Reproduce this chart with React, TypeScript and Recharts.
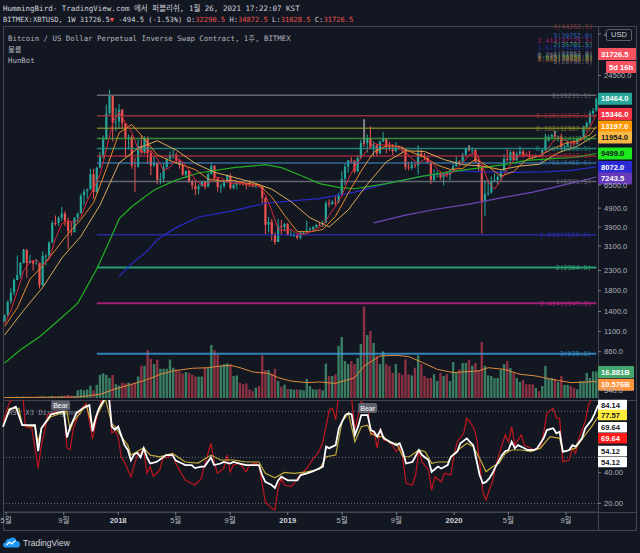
import React from "react";
import { ComposedChart, Bar, Line, XAxis, YAxis, ReferenceLine, ReferenceDot } from "recharts";

const BG = "#131722";
const UP = "#26a69a";
const DOWN = "#ef5350";
const TXT = "#b2b5be";
const SEP = "#434651";
const MONO = '"DejaVu Sans Mono", "Noto Sans CJK KR", monospace';
const SANS = '"Liberation Sans", Arial, "Noto Sans CJK KR", sans-serif';

// BITMEX:XBTUSD 1W, week of 2017-04-24 .. week of 2020-11-16 : [open, high, low, close]
const ohlc: number[][] = [
  // 2017
  [1240, 1350, 1230, 1340], [1340, 1600, 1320, 1580], [1580, 1860, 1540, 1760], [1760, 2100, 1700, 2050],
  [2050, 2760, 2050, 2180], [2180, 2550, 2100, 2520], [2520, 2980, 2500, 2950], [2950, 2990, 2100, 2520],
  [2520, 2780, 2500, 2590], [2590, 2610, 2300, 2500], [2500, 2650, 2480, 2510], [2510, 2530, 1850, 1930],
  [1930, 2900, 1900, 2750], [2750, 2820, 2450, 2760], [2760, 3280, 2650, 3230], [3230, 4200, 3200, 4100],
  [4100, 4480, 3950, 4090], [4090, 4450, 3950, 4350], [4350, 4980, 4200, 4600], [4600, 4720, 3950, 4200],
  [4200, 4350, 2980, 3700], [3700, 4120, 3500, 3660], [3660, 4400, 3650, 4370], [4370, 4650, 4150, 4600],
  [4600, 5850, 4580, 5700], [5700, 6200, 5100, 6000], [6000, 6200, 5500, 6150], [6150, 7900, 6100, 7400],
  [7400, 7880, 5500, 5950], [5950, 8100, 5900, 8000], [8000, 9700, 7950, 9300], [9300, 11800, 8900, 11300],
  [11300, 17200, 11200, 15500], [15500, 20600, 15200, 19100], [19100, 19300, 11000, 13800], [13800, 16500, 12500, 14000],
  // 2018
  [14000, 17300, 12800, 16200], [16200, 16300, 12800, 13700], [13700, 13800, 9100, 11500], [11500, 12000, 10000, 11600],
  [11600, 11900, 7900, 8200], [8200, 9000, 5950, 8100], [8100, 11200, 8000, 10400], [10400, 11800, 9400, 9650],
  [9650, 11700, 9400, 11450], [11450, 11700, 8400, 9550], [9550, 9900, 7300, 8200], [8200, 9200, 8100, 8450],
  [8450, 8500, 6550, 6900], [6900, 7500, 6550, 7000], [7000, 8450, 6650, 8050], [8050, 9050, 7900, 8900],
  [8900, 9750, 8700, 9350], [9350, 9950, 8900, 9400], [9400, 9600, 8400, 8700], [8700, 8900, 7900, 8250],
  [8250, 8500, 7250, 7350], [7350, 7750, 7050, 7700], [7700, 7800, 6650, 6750], [6750, 6950, 6150, 6450],
  [6450, 6850, 5750, 6150], [6150, 6550, 5800, 6380], [6380, 6800, 6350, 6750], [6750, 6800, 6150, 6350],
  [6350, 7600, 6300, 7400], [7400, 8500, 7350, 8200], [8200, 8250, 6900, 7030], [7030, 7150, 6000, 6300],
  [6300, 6600, 5900, 6400], [6400, 6900, 6250, 6700], [6700, 7400, 6650, 7250], [7250, 7450, 6150, 6250],
  [6250, 6600, 6150, 6500], [6500, 6800, 6150, 6700], [6700, 6800, 6450, 6600], [6600, 6650, 6450, 6550],
  [6550, 6650, 6150, 6450], [6450, 6900, 6400, 6420], [6420, 6550, 6350, 6400], [6400, 6500, 6250, 6450],
  [6450, 6550, 6300, 6350], [6350, 6400, 5200, 5550], [5550, 5600, 3550, 4000], [4000, 4400, 3650, 4150],
  [4150, 4300, 3300, 3550], [3550, 3650, 3150, 3250], [3250, 4300, 3250, 3950], [3950, 4250, 3550, 3900],
  // 2019
  [3900, 4100, 3700, 4050], [4050, 4100, 3500, 3520], [3520, 3750, 3500, 3530], [3530, 3650, 3450, 3550],
  [3550, 3600, 3350, 3420], [3420, 3700, 3350, 3650], [3650, 3700, 3550, 3680], [3680, 4200, 3650, 3750],
  [3750, 3900, 3700, 3800], [3800, 3950, 3700, 3900], [3900, 4050, 3850, 4000], [4000, 4100, 3950, 3980],
  [3980, 4200, 3900, 4100], [4100, 5350, 4100, 5200], [5200, 5450, 4950, 5150], [5150, 5400, 5100, 5300],
  [5300, 5650, 5050, 5250], [5250, 5900, 5200, 5750], [5750, 7650, 5700, 7000], [7000, 8400, 6500, 8100],
  [8100, 8700, 7500, 8750], [8750, 9100, 8450, 8700], [8700, 8800, 7450, 7650], [7650, 9300, 7550, 9000],
  [9000, 11200, 8950, 10800], [10800, 14400, 10300, 10750], [10750, 12000, 9600, 11450], [11450, 13200, 10100, 10200],
  [10200, 11000, 9100, 10500], [10500, 10650, 9150, 9500], [9500, 11100, 9400, 11000], [11000, 12300, 10900, 11400],
  [11400, 11450, 9500, 10300], [10300, 10950, 9800, 10150], [10150, 10650, 9350, 9750], [9750, 10900, 9650, 10400],
  [10400, 10450, 9900, 10300], [10300, 10350, 9600, 10000], [10000, 10050, 7800, 8050], [8050, 8550, 7750, 7950],
  [7950, 8650, 7800, 8300], [8300, 8400, 7950, 8200], [8200, 10500, 7350, 9550], [9550, 9950, 9050, 9200],
  [9200, 9550, 8750, 9050], [9050, 9100, 8400, 8500], [8500, 8550, 6550, 6900], [6900, 7850, 6800, 7400],
  [7400, 7750, 7100, 7500], [7500, 7650, 6900, 7100], [7100, 7450, 6450, 7500], [7500, 7700, 7100, 7300],
  // 2020
  [7300, 7800, 6850, 7750], [7750, 8450, 7700, 8150], [8150, 9200, 8100, 8650], [8650, 8750, 8250, 8600],
  [8600, 9600, 8500, 9350], [9350, 10200, 9150, 10150], [10150, 10500, 9700, 9900], [9900, 10250, 9400, 9950],
  [9950, 10000, 8450, 8550], [8550, 9200, 7650, 8050], [8050, 8200, 3600, 5350], [5350, 6900, 4450, 5850],
  [5850, 6950, 5700, 5900], [5900, 7200, 5850, 6800], [6800, 7450, 6750, 6900], [6900, 7300, 6500, 7150],
  [7150, 7750, 6800, 7700], [7700, 9450, 7650, 8900], [8900, 10050, 8600, 8750], [8750, 9900, 8200, 9700],
  [9700, 9850, 8700, 8750], [8750, 9750, 8650, 9450], [9450, 10400, 9300, 9750], [9750, 9950, 9050, 9350],
  [9350, 9600, 9200, 9300], [9300, 9800, 8950, 9100], [9100, 9250, 8950, 9050], [9050, 9450, 9000, 9250],
  [9250, 9300, 9050, 9200], [9200, 10000, 9150, 9950], [9950, 12100, 9900, 11150], [11150, 11900, 11000, 11650],
  [11650, 12100, 11300, 11900], [11900, 12500, 11350, 11650], [11650, 11800, 11100, 11700], [11700, 12100, 9900, 10250],
  [10250, 10550, 9900, 10350], [10350, 11150, 10250, 10950], [10950, 11000, 10150, 10750], [10750, 10950, 10450, 10650],
  [10650, 11500, 10550, 11400], [11400, 11750, 11200, 11500], [11500, 13350, 11400, 13050], [13050, 14050, 12900, 13750],
  [13750, 15950, 13300, 15500], [15500, 16500, 14800, 15950], [15950, 18800, 15800, 18450],
];

// weekly volume, billions of USD contracts
const volume = [
  0.3, 0.4, 0.5, 0.6, 0.9, 0.7, 0.9, 0.9, 0.7, 0.6,
  0.7, 1.0, 1.1, 0.8, 0.9, 1.3, 1.2, 1.1, 1.4, 1.5,
  2.0, 1.5, 1.3, 5, 5.5, 5, 5.5, 8, 5, 8.5,
  15, 16, 15, 13, 15, 9, 8, 10, 9.5, 10,
  9.5, 10, 14, 21, 21, 31, 25.5, 22, 25, 19,
  19, 19, 25, 19.7, 18.6, 17.3, 16, 16.9, 16.3, 15.2,
  13.9, 13.9, 13.9, 19.5, 19.5, 34.5, 31, 28, 21, 22,
  22.5, 22, 14.3, 14.7, 9.8, 8.9, 9.5, 5.6, 4.5, 6.7,
  7.8, 27.7, 18.2, 18.2, 15.8, 19, 11, 7.3, 8.7, 5.9,
  5.9, 5.4, 5.6, 5.4, 5, 12.4, 7.8, 5.6, 5.4, 6,
  5, 22.3, 14.3, 14.3, 15.4, 33.8, 39.6, 24, 22, 24,
  22, 26, 35, 59.4, 40.9, 43.5, 35.7, 27.5, 22, 30.3,
  22, 20.8, 16.3, 22, 16.3, 15, 25.1, 15.4, 14.7, 19.7,
  27.7, 22, 14.3, 13, 13, 15.4, 11, 16.3, 14.3, 15.4,
  11, 23.4, 16.3, 18.6, 22.8, 22.8, 24.9, 21, 22.8, 18.2,
  36.4, 21, 14.7, 14.3, 13, 13, 18.6, 22, 24, 19.5,
  16.3, 13, 10.4, 11.7, 8.9, 8.9, 8.9, 6.5, 4.5, 7.8,
  20.8, 12.4, 13, 12.4, 10.4, 14.3, 8.5, 8.5, 7.8, 6.5,
  5.6, 11, 11, 16.3, 13, 17.3, 17.3,
];

// bars whose upper wick is highlighted white
const whiteBars = [6, 26, 113, 146, 173];

// [week index, value]
const volMa = [[0, 0.3], [23, 0.6], [30, 2.4], [35, 6.1], [40, 8.9], [45, 12.1], [49, 15.4], [53, 17.6], [59, 19.3], [64, 19.7], [68, 20.8], [71, 21.2], [74, 19.7], [78, 16.9], [83, 16], [86, 13.2], [90, 11], [95, 10], [99, 10.4], [104, 9.5], [110, 13.2], [113, 20.8], [118, 27.3], [123, 27.7], [127, 26.9], [131, 23.4], [136, 18.6], [141, 16.5], [149, 17.6], [152, 19.7], [157, 18.6], [162, 15.4], [167, 14.3], [172, 12.1], [178, 10], [183, 10.4], [186, 10.8]];

const ma5 = [[0, 1204], [2, 1418], [4, 1782], [6, 2292], [8, 2552], [10, 2612], [12, 2454], [14, 2632], [16, 3386], [18, 4076], [20, 4190], [22, 4112], [24, 4412], [26, 5370], [28, 6240], [30, 7360], [32, 10010], [34, 13800], [36, 15720], [38, 13840], [40, 12240], [42, 9960], [44, 9560], [46, 9850], [48, 8910], [50, 7720], [52, 8040], [54, 8880], [56, 8610], [58, 7750], [60, 6880], [62, 6496], [64, 6606], [66, 7146], [68, 7066], [70, 6736], [72, 6620], [74, 6660], [76, 6560], [78, 6490], [80, 6420], [82, 5750], [84, 4720], [86, 3780], [88, 3740], [90, 3790], [92, 3614], [94, 3566], [96, 3660], [98, 3826], [100, 3956], [102, 4486], [104, 5000], [106, 5690], [108, 6970], [110, 8050], [112, 8990], [114, 9940], [116, 10750], [118, 10530], [120, 10540], [122, 10520], [124, 10180], [126, 9700], [128, 8920], [130, 8410], [132, 8860], [134, 8640], [136, 7870], [138, 7280], [140, 7430], [142, 7870], [144, 8500], [146, 9330], [148, 9580], [150, 8360], [152, 6740], [154, 6160], [156, 6890], [158, 7880], [160, 8760], [162, 9280], [164, 9320], [166, 9310], [168, 9180], [170, 9720], [172, 10770], [174, 11610], [176, 11170], [178, 10800], [180, 10820], [182, 11470], [184, 13040], [186, 15346]];
const ma10 = [[0, 1167], [4, 1464], [8, 2076], [12, 2438], [16, 2960], [20, 3600], [24, 4272], [28, 5251], [32, 7908], [36, 12200], [40, 13500], [44, 11300], [48, 9335], [52, 8710], [56, 8245], [60, 7810], [64, 6960], [68, 6810], [72, 6863], [76, 6619], [80, 6515], [84, 5590], [88, 4490], [92, 3687], [96, 3680], [100, 3785], [104, 4445], [108, 5857], [112, 7660], [116, 9635], [120, 10440], [124, 10360], [128, 9635], [132, 9085], [136, 8250], [140, 7840], [144, 7930], [148, 8880], [152, 8100], [156, 7220], [160, 7640], [164, 8820], [168, 9240], [172, 10010], [176, 10710], [180, 11105], [184, 11925], [186, 13197]];
const ma20 = [[0, 1053], [6, 1420], [12, 1877], [18, 2678], [24, 3486], [30, 5090], [36, 8480], [42, 10150], [48, 11090], [54, 9890], [60, 8415], [66, 7565], [72, 7124], [78, 6690], [84, 6165], [90, 5300], [96, 4360], [102, 3900], [108, 4795], [114, 6545], [120, 8600], [126, 9815], [132, 9740], [138, 8840], [144, 8300], [150, 8165], [156, 7810], [162, 8165], [168, 8335], [174, 9590], [180, 10365], [186, 11954]];
const ma50 = [[0, 750], [5, 880], [11, 1030], [17, 1260], [23, 1550], [29, 2350], [33, 3300], [36, 4300], [40, 5000], [47, 6100], [54, 6900], [61, 7500], [72, 8000], [82, 8300], [87, 8000], [93, 7300], [99, 6600], [105, 6300], [110, 6200], [120, 6600], [131, 7200], [141, 7650], [150, 8000], [157, 8300], [164, 8750], [171, 8900], [179, 9050], [186, 9499]];
const ma100 = [[36, 2150], [40, 2500], [45, 2930], [48, 3350], [54, 3880], [61, 4400], [72, 4750], [82, 5200], [93, 5400], [99, 5500], [110, 5950], [120, 6600], [131, 7200], [143, 7700], [150, 7600], [160, 7550], [170, 7600], [178, 7750], [186, 8072]];
const ma200 = [[116, 4100], [126, 4500], [136, 4850], [146, 5150], [156, 5550], [166, 5950], [176, 6500], [186, 7150]];

const rsiWhite = [[0, 70], [2, 81], [4, 83], [6, 71], [10, 71], [11, 54], [12, 69], [15, 78], [17, 79], [19, 80], [20, 63], [21, 70], [23, 79], [25, 82], [27, 84], [28, 67], [29, 76], [30, 82], [32, 89], [33, 92], [34, 70], [35, 68], [36, 70], [38, 58], [39, 55], [40, 48], [41, 52], [42, 53], [43, 50], [44, 56], [45, 50], [46, 46], [48, 47], [50, 50], [51, 51.5], [53, 51.5], [54, 48], [56, 46], [57, 45], [59, 45], [60, 43], [62, 44], [63, 44], [65, 50], [66, 45], [68, 46], [69, 47], [71, 46], [72, 47], [74, 46], [76, 45], [78, 45], [80, 45], [81, 38.5], [82, 34], [84, 32], [85, 30], [86, 35], [87, 37.4], [89, 35], [90, 35], [92, 35], [93, 38.5], [95, 39.6], [97, 41], [99, 43], [100, 44], [101, 57], [102, 56], [104, 58], [105, 69], [107, 77.6], [108, 78.7], [109, 78], [110, 64.6], [111, 70], [112, 77.6], [114, 77.6], [115, 67.8], [116, 66.7], [117, 63.5], [118, 67.8], [119, 62.4], [121, 60.2], [123, 58], [124, 59.2], [125, 53.7], [126, 46], [128, 47], [130, 54.8], [131, 51.5], [133, 48.3], [134, 40.6], [136, 44], [137, 42.8], [139, 45], [140, 50.4], [142, 53.7], [143, 59.2], [145, 62.4], [146, 60], [147, 58], [148, 48.3], [149, 38.5], [150, 33.1], [151, 34], [152, 36.3], [153, 39.6], [154, 44], [156, 51.5], [157, 54], [158, 54.8], [159, 60.2], [160, 56], [161, 58], [163, 56], [164, 54.8], [166, 54.8], [167, 56], [169, 62.4], [170, 67.8], [172, 69], [173, 65.7], [174, 66.7], [175, 53.7], [176, 54], [177, 54.8], [178, 58], [179, 57], [181, 62.4], [182, 69], [184, 74.4], [185, 78.7], [186, 84]];
const rsiRed = [[0, 73], [2, 86], [4, 89], [5, 95], [6, 96], [7, 70], [9, 69], [11, 43], [12, 58], [13, 67], [14, 78], [16, 79], [17, 81], [19, 82], [20, 56], [21, 55], [22, 69], [24, 80], [25, 83], [26, 85], [28, 62], [29, 73], [30, 81], [31, 90], [32, 97], [33, 99], [34, 66], [35, 67], [36, 63.5], [37, 50], [38, 47], [40, 37.4], [41, 45], [42, 51.5], [44, 54.8], [45, 39.6], [46, 44], [47, 37.4], [49, 41.8], [50, 49.4], [52, 50.4], [53, 52.6], [54, 46.1], [56, 38.5], [57, 35.2], [59, 33], [60, 32], [62, 36.3], [63, 45], [65, 59.2], [66, 47.2], [67, 39.6], [69, 42.8], [70, 51.5], [71, 40.6], [72, 45], [74, 46.3], [76, 40.6], [77, 45], [79, 46.3], [80, 45], [81, 33], [82, 21], [83, 19], [84, 16.8], [85, 15.7], [86, 30], [87, 36.3], [88, 32], [90, 31], [91, 33], [92, 36.3], [93, 38.5], [95, 42.8], [97, 49.4], [98, 51.5], [99, 55], [100, 60], [102, 81], [103, 82], [104, 74.4], [105, 92], [106, 96], [107, 97], [108, 95], [109, 88], [110, 67.8], [112, 86.3], [114, 83], [115, 64.6], [116, 66.7], [117, 56], [118, 69], [119, 61.3], [121, 60.2], [123, 53.7], [124, 57], [125, 49.4], [126, 33.1], [128, 32], [129, 38.5], [130, 54.8], [131, 47], [133, 41.8], [134, 28.7], [135, 37.4], [137, 34.1], [138, 39.6], [140, 38.5], [141, 51.5], [142, 60.2], [144, 65.7], [145, 75.5], [147, 70], [148, 63.5], [149, 47], [150, 27.6], [151, 22.2], [152, 28.7], [153, 34.1], [154, 43.9], [155, 51.5], [157, 64.6], [158, 60], [159, 70], [160, 58], [162, 64.6], [163, 58], [165, 56], [166, 55], [168, 56], [169, 65.7], [170, 78.7], [172, 82], [173, 75.5], [174, 75.5], [175, 47.2], [177, 48.3], [178, 56], [179, 52.6], [180, 62.4], [182, 73.3], [183, 84], [185, 92], [186, 96]];
const rsiYellow = [[0, 70], [2, 82], [5, 82], [6, 71], [10, 70], [11, 60], [12, 69], [15, 76.5], [20, 80], [21, 67.8], [22, 73.3], [26, 84], [28, 70], [29, 76], [32, 88], [34, 72], [35, 70], [37, 63.5], [39, 58], [40, 51.5], [44, 56.3], [46, 51.5], [49, 50.4], [53, 52.6], [57, 47], [61, 46.3], [65, 51.5], [68, 48.3], [72, 48.3], [76, 47], [80, 47], [82, 39.6], [85, 36.7], [88, 40.2], [91, 39.6], [95, 40.6], [99, 42.4], [101, 50.4], [104, 51.5], [106, 73.3], [108, 78.7], [110, 60.2], [112, 70], [114, 71], [115, 65.7], [117, 63.5], [119, 63.5], [121, 59.2], [123, 59.2], [125, 50.4], [127, 50.4], [130, 54.8], [132, 53.7], [134, 46.1], [136, 47], [139, 47], [141, 52.6], [143, 56], [145, 59.2], [147, 57], [149, 49.4], [151, 40.6], [153, 43.9], [155, 46.1], [157, 52.6], [159, 54.8], [162, 54.8], [165, 53.7], [168, 56], [171, 63.5], [174, 62.4], [175, 53.7], [179, 56], [182, 64.6], [184, 70], [186, 76.5]];

// fib retracement (log) anchored 19231.5 -> 6771.5
const fibLevels = ["0", "0.236", "0.382", "0.5", "0.618", "0.705", "0.786", "1", "1.618", "2", "2.414", "3"];
const fibPrices = [19231.5, 15032.5, 12907.5, 11412.0, 10088.5, 9213.5, 8466.5, 6771.5, 3552.5, 2384.5, 1547.5, 839.5];
const fibColors = ["#787b86", "#b0343e", "#94942c", "#3fa83f", "#1f9c8c", "#b8303f", "#3d7fb5", "#787b86", "#2c30b8", "#2ec08a", "#c4268a", "#3a9ee0"];
const fibStart = 29;

// labels of a second fib drawn off to the right
const fib2Levels = ["4", "3", "2.414", "2", "1.618", "1", "0.786", "0.705", "0.618", "0.5", "0.382", "0.236", "0"];
const fib2Prices = [44262.5, 39752.0, 37125.5, 35701.5, 34266.0, 32063.0, 31334.0, 31063.0, 30774.0, 30386.0, 30003.0, 29536.0, 28796.0];
const fib2Colors = ["#a04040", "#3a7ee0", "#c4268a", "#2ec08a", "#2c30b8", "#787b86", "#3d7fb5", "#b8303f", "#1f9c8c", "#3fa83f", "#94942c", "#b0343e", "#787b86"];

const priceTicks = [540, 860, 1100, 1400, 1800, 2300, 3100, 3900, 4900, 6500, 24500, 40500];

const priceBadges = [
  { v: 31726.5, t: "31726.5", bg: "#f7525f", fg: "#fff", w: 38 },
  { v: 31726.5, t: "5d 16h", bg: "#f7525f", fg: "#fff", dy: 13, w: 30, dx: 8 },
  { v: 18464, t: "18464.0", bg: "#26a69a", fg: "#fff" },
  { v: 15346, t: "15346.0", bg: "#f23645", fg: "#fff" },
  { v: 13197, t: "13197.0", bg: "#ff9800", fg: "#fff" },
  { v: 11954, t: "11954.0", bg: "#f7b845", fg: "#131722", dy: 3 },
  { v: 9499, t: "9499.0", bg: "#1ee81e", fg: "#131722" },
  { v: 8072, t: "8072.0", bg: "#2b2bd6", fg: "#fff" },
  { v: 7243.5, t: "7243.5", bg: "#673ab7", fg: "#fff", dy: 2.5 },
];
const volBadges = [
  { v: 16.881, t: "16.881B", bg: "#43a66d", fg: "#fff" },
  { v: 10.576, t: "10.576B", bg: "#ff9642", fg: "#fff", dy: 3 },
];
const rsiBadges = [
  { v: 84.14, t: "84.14", bg: "#ffffff", fg: "#131722", w: 29 },
  { v: 77.57, t: "77.57", bg: "#ffeb3b", fg: "#131722", w: 29 },
  { v: 69.64, t: "69.64", bg: "#ffffff", fg: "#131722", w: 29 },
  { v: 69.64, t: "69.64", bg: "#ff1a1a", fg: "#ffffff", w: 29, dy: 11 },
  { v: 54.12, t: "54.12", bg: "#ffffff", fg: "#131722", w: 29 },
  { v: 54.12, t: "54.12", bg: "#ffffff", fg: "#131722", w: 29, dy: 11 },
];

const timeTicks = [1, 19, 36, 54, 71, 89, 106, 123, 141, 158, 176];
const timeLabels = ["5월", "9월", "2018", "5월", "9월", "2019", "5월", "9월", "2020", "5월", "9월"];

const rows: any[] = ohlc.map(([o, h, l, c], i) => ({ i, o, h, l, c, range: [l, h], vol: volume[i] }));
const rsiRows: any[] = ohlc.map((_, i) => ({ i }));
const put = (arr: any[], key: string, pts: number[][]) => pts.forEach(([i, v]) => { arr[i][key] = v; });
put(rows, "volMa", volMa);
put(rows, "ma5", ma5);
put(rows, "ma10", ma10);
put(rows, "ma20", ma20);
put(rows, "ma50", ma50);
put(rows, "ma100", ma100);
put(rows, "ma200", ma200);
put(rsiRows, "w", rsiWhite);
put(rsiRows, "r", rsiRed);
put(rsiRows, "y", rsiYellow);

const Candle = (props: any) => {
  const { x, y, width, height, payload } = props;
  if (!payload || height == null || isNaN(y)) return null;
  const { o, h, l, c, i } = payload;
  const lh = Math.log(h);
  const ll = Math.log(l);
  const py = (v: number) => y + (height * (lh - Math.log(v))) / (lh - ll);
  const cx = x + width / 2;
  const col = c >= o ? UP : DOWN;
  const top = py(Math.max(o, c));
  const bot = py(Math.min(o, c));
  const bw = 2.2;
  return (
    <g>
      <line x1={cx} x2={cx} y1={y} y2={top} stroke={whiteBars.includes(i) ? "#e6e6e6" : col} strokeWidth={1} />
      <line x1={cx} x2={cx} y1={bot} y2={y + height} stroke={col} strokeWidth={1} />
      <rect x={cx - bw / 2} y={top} width={bw} height={Math.max(1, bot - top)} fill={col} />
    </g>
  );
};

const VolBar = (props: any) => {
  const { x, y, width, height, payload } = props;
  if (!payload || height == null) return null;
  const col = payload.c >= payload.o ? "#3a7d63" : "#8a3142";
  return <rect x={x + width / 2 - 1.2} y={y} width={2.4} height={Math.max(0, height)} fill={col} />;
};

const badge = (t: string, bg: string, fg: string, dy = 0, w = 34, dx = 0, h = 12) => (p: any) => {
  const vb = p.viewBox;
  if (!vb) return null;
  const x = vb.x + vb.width + dx;
  const y = vb.y + dy;
  return (
    <g>
      <rect x={x} y={y - h / 2} width={w} height={h} fill={bg} rx={1} />
      <text x={x + 3} y={y + 2.7} fontSize={7.6} fontWeight={700} fill={fg} fontFamily={SANS}>{t}</text>
    </g>
  );
};

const TimeTick = (props: any) => {
  const { x, y, payload } = props;
  const label = timeLabels[timeTicks.indexOf(payload.value)];
  const year = /^\d{4}$/.test(label);
  return (
    <text x={x} y={y + 6} textAnchor="middle" fontSize={7.6} fontFamily={SANS} fontWeight={year ? 700 : 400} fill={year ? "#d1d4dc" : TXT}>
      {label}
    </text>
  );
};

const BearTag = ({ cx, cy }: any) => (
  <g>
    <rect x={cx - 9.5} y={cy - 5} width={19} height={10} rx={2} fill="#5d606b" />
    <text x={cx} y={cy + 2.6} textAnchor="middle" fontSize={7} fill="#ffffff" fontFamily={SANS}>Bear</text>
  </g>
);

const hLine = (left: number, top: number, width: number) => (
  <div style={{ position: "absolute", left, top, width, height: 1, background: SEP }} />
);

export default function App() {
  return (
    <div style={{ position: "fixed", left: 0, top: 0, width: 640, height: 553, background: BG, overflow: "hidden", color: "#d1d4dc" }}>
      {/* header */}
      <div style={{ position: "absolute", left: 3, top: 3, fontFamily: MONO, fontSize: 7.5, lineHeight: "11px", whiteSpace: "nowrap" }}>
        HummingBird- TradingView.com 에서 퍼블리쉬, 1월 26, 2021 17:22:07 KST
      </div>
      <div style={{ position: "absolute", left: 3, top: 14, fontFamily: MONO, fontSize: 7.1, lineHeight: "11px", whiteSpace: "nowrap" }}>
        BITMEX:XBTUSD, 1W 31726.5<span style={{ color: DOWN }}>▼</span> -494.5 (-1.53%) O:<span style={{ color: DOWN }}>32290.5</span> H:
        <span style={{ color: DOWN }}>34872.5</span> L:<span style={{ color: DOWN }}>31028.5</span> C:<span style={{ color: DOWN }}>31726.5</span>
      </div>

      {/* pane legends */}
      <div style={{ position: "absolute", left: 8, top: 33, fontFamily: MONO, fontSize: 7.4, lineHeight: "11px", color: TXT, whiteSpace: "nowrap" }}>
        <div>Bitcoin / US Dollar Perpetual Inverse Swap Contract, 1주, BITMEX</div>
        <div>볼륨</div>
        <div>HunBot</div>
      </div>
      <div style={{ position: "absolute", left: 8, top: 407, fontFamily: MONO, fontSize: 7.2, lineHeight: "11px", color: "#9598a1", whiteSpace: "nowrap" }}>
        RSI X3 Divergence
      </div>

      {/* frame */}
      <div style={{ position: "absolute", left: 3, top: 26, width: 632, height: 503, border: `1px solid ${SEP}` }} />
      <div style={{ position: "absolute", left: 598, top: 26, width: 1, height: 504, background: SEP }} />
      {hLine(3, 400, 633)}
      {hLine(3, 512, 633)}

      <div style={{ position: "absolute", left: 0, top: 0 }}>
        <ComposedChart width={640} height={400} data={rows} margin={{ top: 27, right: 4, bottom: 2, left: 3 }} barCategoryGap={0}>
          <XAxis xAxisId="x" dataKey="i" type="category" hide />
          <XAxis xAxisId="xv" dataKey="i" type="category" hide />
          <YAxis
            yAxisId="p"
            orientation="right"
            scale="log"
            domain={[490.6, 44030]}
            allowDataOverflow
            ticks={priceTicks}
            width={38}
            tickSize={3}
            tickMargin={3}
            axisLine={false}
            tickLine={{ stroke: "#787b86" }}
            tick={{ fill: TXT, fontSize: 7.6, fontFamily: SANS }}
            tickFormatter={(v: number) => v.toFixed(1)}
          />
          <YAxis yAxisId="v" domain={[0, 241]} hide />

          <Bar xAxisId="xv" yAxisId="v" dataKey="vol" shape={<VolBar />} isAnimationActive={false} />
          <Line xAxisId="xv" yAxisId="v" dataKey="volMa" stroke="#e08a3c" strokeWidth={1} dot={false} connectNulls isAnimationActive={false} />

          {fibLevels.map((lv, k) => (
            <ReferenceLine
              key={"f" + k}
              xAxisId="x"
              yAxisId="p"
              segment={[{ x: fibStart, y: fibPrices[k] }, { x: rows.length - 1, y: fibPrices[k] }]}
              stroke={fibColors[k]}
              strokeWidth={k >= 9 ? 2 : 1.5}
              strokeOpacity={0.8}
              label={{ value: `${lv}(${fibPrices[k].toFixed(1)})`, position: "insideRight", fill: fibColors[k], fontSize: 6.6, fontFamily: MONO, opacity: 0.75 }}
            />
          ))}
          {fib2Levels.map((lv, k) => (
            <ReferenceLine
              key={"g" + k}
              xAxisId="x"
              yAxisId="p"
              y={fib2Prices[k]}
              stroke="none"
              ifOverflow="visible"
              label={{ value: `${lv}(${fib2Prices[k].toFixed(1)})`, position: "insideRight", fill: fib2Colors[k], fontSize: 6.6, fontFamily: MONO, opacity: 0.75 }}
            />
          ))}

          <Bar xAxisId="x" yAxisId="p" dataKey="range" shape={<Candle />} isAnimationActive={false} />

          <Line xAxisId="x" yAxisId="p" dataKey="ma200" stroke="#6f47b8" strokeWidth={1.2} dot={false} connectNulls isAnimationActive={false} />
          <Line xAxisId="x" yAxisId="p" dataKey="ma100" stroke="#2a2ac8" strokeWidth={1.2} dot={false} connectNulls isAnimationActive={false} />
          <Line xAxisId="x" yAxisId="p" dataKey="ma50" stroke="#22b022" strokeWidth={1.2} dot={false} connectNulls isAnimationActive={false} />
          <Line xAxisId="x" yAxisId="p" dataKey="ma20" stroke="#d9ac55" strokeWidth={1} dot={false} connectNulls isAnimationActive={false} />
          <Line xAxisId="x" yAxisId="p" dataKey="ma10" stroke="#e8892a" strokeWidth={1} dot={false} connectNulls isAnimationActive={false} />
          <Line xAxisId="x" yAxisId="p" dataKey="ma5" stroke="#d8283c" strokeWidth={1} dot={false} connectNulls isAnimationActive={false} />

          {priceBadges.map((b, k) => (
            <ReferenceLine key={"b" + k} xAxisId="x" yAxisId="p" y={b.v} stroke="none" label={badge(b.t, b.bg, b.fg, b.dy || 0, b.w || 34, b.dx || 0)} />
          ))}
          {volBadges.map((b, k) => (
            <ReferenceLine key={"vb" + k} xAxisId="xv" yAxisId="v" y={b.v} stroke="none" label={badge(b.t, b.bg, b.fg, b.dy || 0, 36)} />
          ))}
        </ComposedChart>
      </div>

      <div style={{ position: "absolute", left: 606, top: 29, width: 24, height: 10, border: "1px solid #5d606b", borderRadius: 2, background: BG, fontFamily: SANS, fontSize: 7.5, lineHeight: "10px", textAlign: "center", color: "#d1d4dc" }}>
        USD
      </div>

      <div style={{ position: "absolute", left: 0, top: 399 }}>
        <ComposedChart width={640} height={131} data={rsiRows} margin={{ top: 1, right: 4, bottom: 0, left: 3 }}>
          <XAxis
            dataKey="i"
            type="category"
            ticks={timeTicks}
            interval={0}
            height={18}
            tickSize={3}
            tickMargin={2}
            axisLine={{ stroke: SEP }}
            tickLine={{ stroke: "#787b86" }}
            tick={<TimeTick />}
          />
          <YAxis
            orientation="right"
            domain={[14.4, 87.4]}
            allowDataOverflow
            ticks={[20, 40]}
            width={38}
            tickSize={3}
            tickMargin={3}
            axisLine={false}
            tickLine={{ stroke: "#787b86" }}
            tick={{ fill: TXT, fontSize: 7.6, fontFamily: SANS }}
            tickFormatter={(v: number) => v.toFixed(2)}
          />
          {[80, 50, 20].map((v) => (
            <ReferenceLine key={v} y={v} stroke="#787b86" strokeDasharray="1 2" strokeOpacity={0.9} />
          ))}
          <Line dataKey="r" stroke="#c0161e" strokeWidth={1.2} dot={false} connectNulls isAnimationActive={false} />
          <Line dataKey="y" stroke="#c2ab3a" strokeWidth={1.2} dot={false} connectNulls isAnimationActive={false} />
          <Line dataKey="w" stroke="#ffffff" strokeWidth={1.8} dot={false} connectNulls isAnimationActive={false} />
          <ReferenceDot x={18} y={83.8} r={0} shape={(p: any) => <BearTag cx={p.cx} cy={p.cy} />} />
          <ReferenceDot x={114} y={82.2} r={0} shape={(p: any) => <BearTag cx={p.cx} cy={p.cy} />} />
          {rsiBadges.map((b, k) => (
            <ReferenceLine key={"r" + k} y={b.v} stroke="none" label={badge(b.t, b.bg, b.fg, b.dy || 0, b.w, 0, 10.5)} />
          ))}
        </ComposedChart>
      </div>

      {/* TradingView logo */}
      <div style={{ position: "absolute", left: 3, top: 537, display: "flex", alignItems: "center" }}>
        <svg width="17" height="11" viewBox="0 0 17 11">
          <path d="M3 10.5 Q0 10.5 0 7.8 Q0 5.4 2.6 5.2 Q3 1.8 6.4 1.8 Q8 0 10.4 0.6 Q13 1 13.4 3.8 Q17 4.2 17 7.4 Q17 10.5 13.8 10.5 Z" fill="#2196f3" />
          <polyline points="3.5,8 6.5,5 8.5,7 12.5,3.5" fill="none" stroke="#ffffff" strokeWidth={1.2} />
        </svg>
        <span style={{ marginLeft: 3, fontFamily: SANS, fontSize: 8.5, color: "#d1d4dc" }}>TradingView</span>
      </div>
    </div>
  );
}
